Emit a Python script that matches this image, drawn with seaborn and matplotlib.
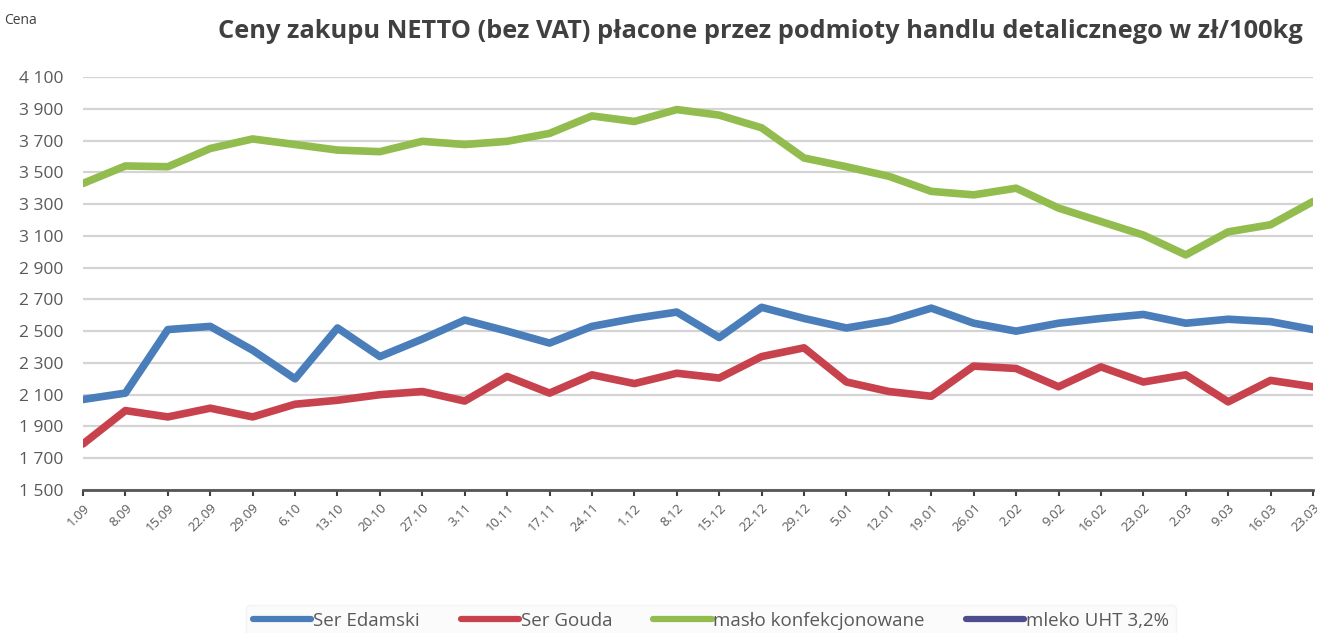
import numpy as np
import pandas as pd
import matplotlib
matplotlib.use("Agg")
import matplotlib.pyplot as plt
import seaborn as sns
from matplotlib.lines import Line2D
from matplotlib.ticker import FuncFormatter

# tygodnie notowan
daty = ['1.09', '8.09', '15.09', '22.09', '29.09', '6.10', '13.10', '20.10', '27.10', '3.11',
        '10.11', '17.11', '24.11', '1.12', '8.12', '15.12', '22.12', '29.12', '5.01', '12.01',
        '19.01', '26.01', '2.02', '9.02', '16.02', '23.02', '2.03', '9.03', '16.03', '23.03']

ser_edamski = [2070, 2110, 2510, 2530, 2380, 2200, 2520, 2340, 2450, 2570,
               2500, 2425, 2530, 2580, 2620, 2460, 2650, 2580, 2520, 2565,
               2645, 2550, 2500, 2550, 2580, 2605, 2550, 2575, 2560, 2510]

ser_gouda = [1790, 2000, 1960, 2015, 1960, 2040, 2065, 2100, 2120, 2060,
             2215, 2110, 2225, 2170, 2235, 2205, 2340, 2395, 2180, 2120,
             2090, 2280, 2265, 2150, 2275, 2180, 2225, 2055, 2190, 2150]

maslo = [3430, 3540, 3535, 3650, 3710, 3675, 3640, 3630, 3695, 3675,
         3695, 3745, 3855, 3820, 3895, 3860, 3780, 3590, 3535, 3475,
         3380, 3358, 3400, 3275, 3190, 3105, 2980, 3125, 3170, 3316]

nazwy = ['Ser Edamski', 'Ser Gouda', 'masło konfekcjonowane', 'mleko UHT 3,2%']
kolory = ['#4A7EBB', '#C8424E', '#92BC4E', '#4E4E8E']

sns.set_theme(style='white')
plt.rcParams['font.family'] = ['Open Sans', 'DejaVu Sans']

fig = plt.figure(figsize=(13.17, 6.33), dpi=100)
ax = fig.add_axes([83 / 1317, 1 - 490 / 633, (1313 - 83) / 1317, (490 - 77) / 633])

x = np.arange(len(daty))
for wartosci, kolor in zip([ser_edamski, ser_gouda, maslo], kolory):
    sns.lineplot(x=x, y=wartosci, ax=ax, color=kolor, linewidth=5.5,
                 solid_joinstyle='round', solid_capstyle='round')

ax.set_xlim(0, len(daty) - 1)
ax.set_ylim(1500, 4100)
ax.set_yticks(np.arange(1500, 4101, 200))
ax.yaxis.set_major_formatter(FuncFormatter(lambda v, p: f"{int(v):,}".replace(",", " ")))
ax.grid(axis='y', color='#D4D4D4', linewidth=1.6)
ax.set_axisbelow(True)

ax.set_xticks(x)
ax.set_xticklabels(daty, rotation=45, ha='right', rotation_mode='anchor')
ax.tick_params(axis='x', labelcolor='#595959', labelsize=9.5, length=4, width=1.5,
               direction='out', bottom=True, pad=4, color='#404040')
ax.tick_params(axis='y', labelcolor='#595959', labelsize=12.5, length=0, pad=14)

for s in ['top', 'right', 'left']:
    ax.spines[s].set_visible(False)
ax.spines['bottom'].set_color('#555555')
ax.spines['bottom'].set_linewidth(2)

fig.text(760 / 1317, 1 - 31 / 633, 'Ceny zakupu NETTO (bez VAT) płacone przez podmioty handlu detalicznego w zł/100kg',
         ha='center', va='center', fontsize=18.3, fontweight='bold', color='#404040')
fig.text(37 / 1317, 1 - 20 / 633, 'Cena', ha='right', va='center', fontsize=10, color='#404040')

uchwyty = [Line2D([0], [0], color=k, linewidth=4.5) for k in kolory]
leg = fig.legend(uchwyty, nazwy, loc='center', bbox_to_anchor=(711 / 1317, 1 - 621 / 633),
                 ncol=4, frameon=True, fontsize=13.5, handlelength=3.1, handletextpad=0.1,
                 columnspacing=2.2, borderpad=0.35, labelcolor='#595959')
leg.get_frame().set_facecolor('#FAFAFA')
leg.get_frame().set_edgecolor('#F2F2F2')

fig.savefig('out.png', dpi=100)
